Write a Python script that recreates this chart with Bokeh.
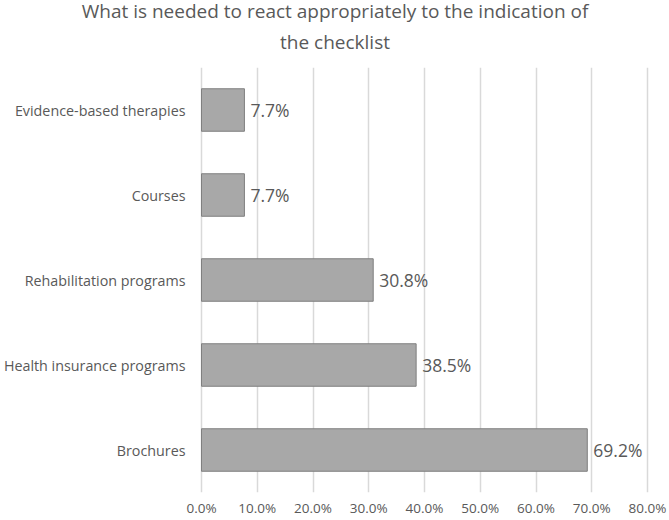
from bokeh.plotting import figure
from bokeh.models import ColumnDataSource, Title, PrintfTickFormatter, FixedTicker
from bokeh.embed import file_html
from bokeh.resources import INLINE

title_lines = ["What is needed to react appropriately to the indication of",
               "the checklist"]
categories = ["Brochures", "Health insurance programs", "Rehabilitation programs",
              "Courses", "Evidence-based therapies"]
values = [69.2, 38.5, 30.8, 7.7, 7.7]
value_labels = ["69.2%", "38.5%", "30.8%", "7.7%", "7.7%"]
x_ticks = [0, 10, 20, 30, 40, 50, 60, 70, 80]

src = ColumnDataSource(dict(cat=categories, val=values, lab=value_labels,
                            zero=[0] * len(categories)))

# frame spans the full width; 0% sits at 201 px and 80% at 647 px
px_per_unit = (647 - 201) / 80.0
x_start = -201 / px_per_unit
x_end = 80 + (669 - 647) / px_per_unit

p = figure(width=669, height=520, y_range=categories, x_range=(x_start, x_end),
           output_backend="svg", toolbar_location=None, title=None,
           min_border_left=0, min_border_right=0, min_border_top=67,
           min_border_bottom=28, background_fill_color="white",
           border_fill_color="white", outline_line_color=None)

p.hbar(y="cat", right="val", left=0, height=0.5, source=src,
       fill_color="#a8a8a8", line_color="#7f7f7f", line_width=1)

p.text(x="val", y="cat", text="lab", source=src, x_offset=6,
       text_align="left", text_baseline="middle", text_color="#595959",
       text_font_size="17.5px", text_font={"value": "Open Sans"})

# category labels (left of the 0% line)
p.text(x="zero", y="cat", text="cat", source=src, x_offset=-16,
       text_align="right", text_baseline="middle", text_color="#595959",
       text_font_size="14.3px", text_font={"value": "Open Sans"})

p.xaxis.ticker = FixedTicker(ticks=x_ticks)
p.xaxis.formatter = PrintfTickFormatter(format="%.1f%%")
p.xaxis.axis_line_color = None
p.xaxis.major_tick_line_color = None
p.xaxis.major_tick_out = 0
p.xaxis.major_tick_in = 0
p.xaxis.minor_tick_line_color = None
p.xaxis.major_label_standoff = 6
p.xaxis.major_label_text_font = "Open Sans"
p.xaxis.major_label_text_font_size = "13.5px"
p.xaxis.major_label_text_color = "#595959"

p.yaxis.visible = False

p.xgrid.ticker = FixedTicker(ticks=x_ticks)
p.xgrid.grid_line_color = "#d9d9d9"
p.xgrid.grid_line_width = 1.5
p.ygrid.grid_line_color = None

p.add_layout(Title(text=title_lines[1], align="center", text_font="Open Sans",
                   text_font_size="19px", text_font_style="normal",
                   text_color="#595959", standoff=26), "above")
p.add_layout(Title(text=title_lines[0], align="center", text_font="Open Sans",
                   text_font_size="19px", text_font_style="normal",
                   text_color="#595959", standoff=-21), "above")

open("out.html", "w").write(file_html(p, INLINE))
